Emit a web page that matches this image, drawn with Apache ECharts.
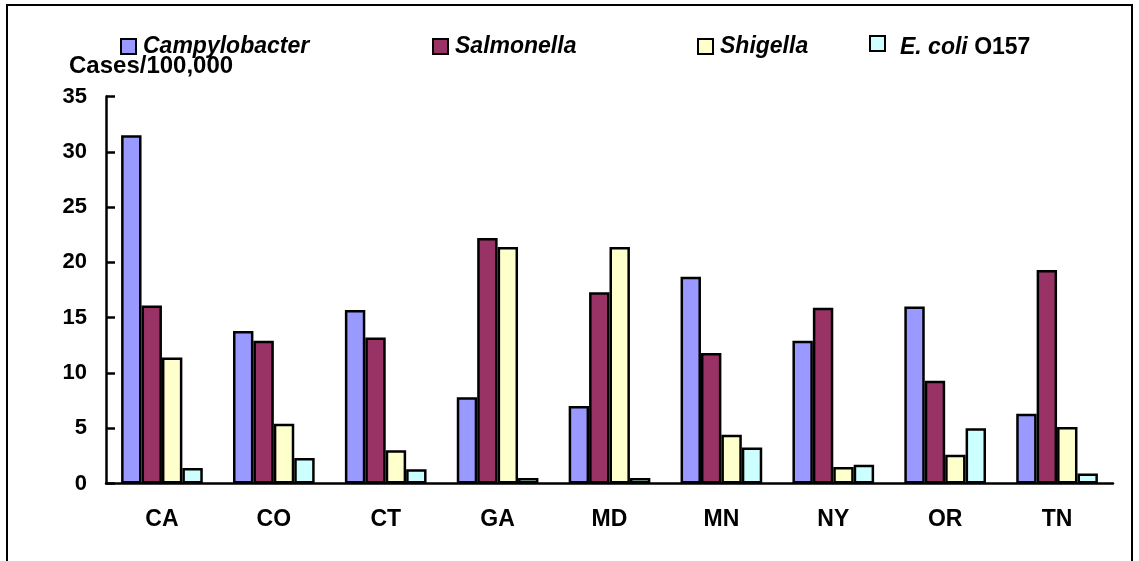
<!DOCTYPE html>
<html>
<head>
<meta charset="utf-8">
<script src="https://cdn.jsdelivr.net/npm/echarts@6/dist/echarts.min.js"></script>
<style>
html,body{margin:0;padding:0;background:#fff;}
#chart{width:1139px;height:561px;}
</style>
</head>
<body>
<div id="chart"></div>
<script>
var categories = ['CA','CO','CT','GA','MD','MN','NY','OR','TN'];
var campylobacter = [31.5, 13.8, 15.7, 7.8, 7.0, 18.7, 12.9, 16.0, 6.3];
var salmonella    = [16.1, 12.9, 13.2, 22.2, 17.3, 11.8, 15.9, 9.3, 19.3];
var shigella      = [11.4, 5.4, 3.0, 21.4, 21.4, 4.4, 1.5, 2.6, 5.1];
var ecoli         = [1.4, 2.3, 1.3, 0.5, 0.5, 3.25, 1.7, 5.0, 0.9];
var seriesNames = ['Campylobacter','Salmonella','Shigella','E. coli O157'];
var yTicks = {min:0, max:35, interval:5};

var FONT = '"Liberation Sans", Arial, sans-serif';
var colors = ['#9999FF','#993366','#FFFFCC','#CCFFFF'];
var values = [campylobacter, salmonella, shigella, ecoli];
var legendLeft = [115, 427, 692, 864];

var chart = echarts.init(document.getElementById('chart'));

var legends = seriesNames.map(function(n, i){
  var lg = {
    data: [n],
    left: legendLeft[i],
    top: 30,
    orient: 'horizontal',
    itemWidth: 15,
    itemHeight: 15,
    icon: 'rect',
    selectedMode: false,
    itemStyle: {borderColor: '#000', borderWidth: 2},
    textStyle: {
      fontFamily: FONT, fontSize: 23, fontWeight: 'bold', fontStyle: 'italic', color: '#000',
      padding: [0,0,0,2]
    }
  };
  if (i === 3) {
    lg.formatter = function(){ return '{i|E. coli} {n|O157}'; };
    lg.textStyle.padding = [8,0,0,10];
    lg.textStyle.rich = {
      i: {fontFamily: FONT, fontSize: 23, fontWeight: 'bold', fontStyle: 'italic', color:'#000'},
      n: {fontFamily: FONT, fontSize: 23, fontWeight: 'bold', fontStyle: 'normal', color:'#000'}
    };
  }
  return lg;
});

var option = {
  backgroundColor: '#fff',
  animation: false,
  title: {
    text: 'Cases/100,000',
    left: 64,
    top: 49,
    textStyle: {fontFamily: FONT, fontSize: 24, fontWeight: 'bold', color: '#000'}
  },
  legend: legends,
  grid: {left: 106, right: 26, top: 96.5, bottom: 77.5},
  xAxis: {
    type: 'category',
    data: categories,
    axisLine: {lineStyle: {color: '#000', width: 2.5}},
    axisTick: {show: false},
    axisLabel: {fontFamily: FONT, fontSize: 23, fontWeight: 'bold', color: '#000', margin: 25}
  },
  yAxis: {
    type: 'value',
    min: yTicks.min, max: yTicks.max, interval: yTicks.interval,
    axisLine: {show: true, lineStyle: {color: '#000', width: 2.5}},
    axisTick: {show: true, inside: true, length: 9, lineStyle: {color: '#000', width: 2.5}},
    splitLine: {show: false},
    axisLabel: {fontFamily: FONT, fontSize: 22, fontWeight: 'bold', color: '#000', margin: 19}
  },
  graphic: [{
    type: 'rect',
    shape: {x: 7, y: 5, width: 1125, height: 620},
    style: {fill: 'none', stroke: '#000', lineWidth: 2},
    silent: true
  }],
  series: seriesNames.map(function(n, i){
    return {
      name: n,
      type: 'bar',
      data: values[i],
      barGap: '0%',
      barCategoryGap: '27%',
      itemStyle: {color: colors[i], borderColor: '#000', borderWidth: 2.5}
    };
  })
};
chart.setOption(option);
</script>
</body>
</html>
